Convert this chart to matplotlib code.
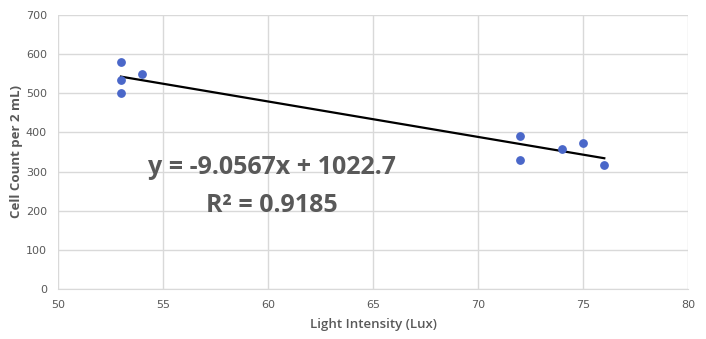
import numpy as np
import matplotlib.pyplot as plt

# Light intensity (Lux) vs cell count
lux = [53, 53, 53, 54, 72, 72, 74, 75, 76]
cells = [580, 535, 500, 548, 390, 330, 357, 373, 317]

x_ticks = [50, 55, 60, 65, 70, 75, 80]
y_ticks = [0, 100, 200, 300, 400, 500, 600, 700]

eq_text = "y = -9.0567x + 1022.7"
r2_text = "R² = 0.9185"

gray = "#595959"
grid_c = "#d9d9d9"

fig = plt.figure(figsize=(7.06, 3.39), dpi=100)
ax = fig.add_axes([0.082, 0.1475, 0.893, 0.8085])

# linear trendline, like the Excel one
slope, icpt = np.polyfit(lux, cells, 1)
xs = np.array([min(lux), max(lux)])
ax.plot(xs, slope * xs + icpt, color="black", lw=1.6, zorder=2)

ax.scatter(lux, cells, s=28, color="#4a67c9", zorder=3)

ax.set_xlim(50, 80)
ax.set_ylim(0, 700)
ax.set_xticks(x_ticks)
ax.set_yticks(y_ticks)
ax.grid(True, color=grid_c, lw=1)
ax.set_axisbelow(True)
for s in ["top", "right", "left"]:
    ax.spines[s].set_visible(False)
ax.spines["bottom"].set_color(grid_c)
ax.tick_params(length=0, colors=gray, labelsize=8, pad=8)

ax.set_xlabel("Light Intensity (Lux)", color=gray, fontsize=9.5,
              fontweight="semibold", family="Open Sans", labelpad=6)
ax.set_ylabel("Cell Count per 2 mL)", color=gray, fontsize=9.5,
              fontweight="bold", family="Open Sans", labelpad=2)

ax.text(0.385, 0.505, eq_text, transform=fig.transFigure, ha="center", va="center",
        fontsize=18, fontweight="bold", color=gray, family="Open Sans")
ax.text(0.385, 0.395, r2_text, transform=fig.transFigure, ha="center", va="center",
        fontsize=18, fontweight="bold", color=gray, family="Open Sans")

fig.savefig("out.png", dpi=100)
